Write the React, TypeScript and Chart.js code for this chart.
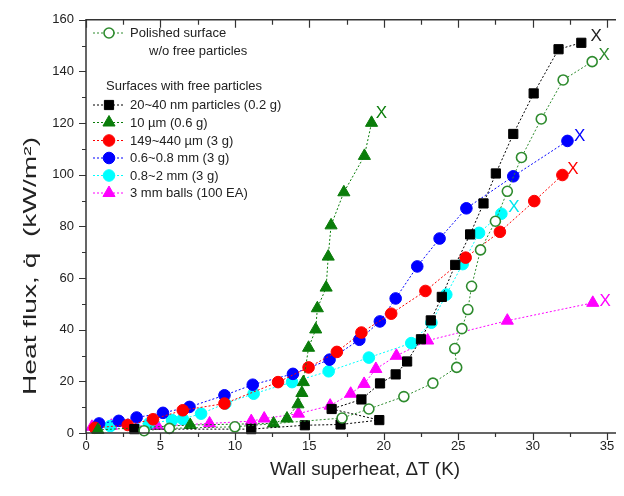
import React, { useEffect, useRef } from "react";
import { Chart, registerables } from "chart.js";

Chart.register(...registerables);

// ---- data (wall superheat K, heat flux kW/m2) ----
const polishedX = [3.9, 5.6, 10.0, 17.2, 19.0, 21.35, 23.3, 24.9, 24.77, 25.25, 25.65, 25.9, 26.5, 27.5, 28.3, 29.25, 30.58, 32.05, 34.0];
const polishedY = [0.9, 1.8, 2.4, 5.8, 9.3, 14.1, 19.3, 25.4, 32.7, 40.4, 47.8, 56.8, 70.9, 82.0, 93.6, 106.7, 121.6, 136.7, 143.8];

const nmX = [3.25, 11.1, 14.7, 17.1, 19.7, 16.5, 18.5, 19.75, 20.8, 21.57, 22.5, 23.16, 23.9, 24.8, 25.8, 26.7, 27.53, 28.7, 30.07, 31.74, 33.27];
const nmY = [1.5, 1.5, 3.0, 3.3, 5.0, 9.3, 13.0, 19.2, 22.7, 27.7, 36.3, 43.6, 52.7, 65.1, 76.9, 88.9, 100.5, 115.8, 131.5, 148.6, 151.1];

const umX = [0.8, 7.0, 12.6, 13.5, 14.24, 14.5, 14.6, 14.95, 15.43, 15.54, 16.13, 16.27, 16.46, 17.32, 18.7, 19.18];
const umY = [1.2, 3.1, 3.7, 5.6, 11.1, 15.5, 19.7, 33.0, 40.1, 48.3, 56.3, 68.3, 80.4, 93.2, 107.3, 120.1];

const redX = [0.6, 2.8, 4.5, 6.5, 9.3, 12.9, 14.95, 16.85, 18.5, 20.5, 22.8, 25.5, 27.8, 30.11, 32.0];
const redY = [2.0, 3.1, 5.3, 8.8, 11.4, 19.7, 25.4, 31.4, 38.9, 46.2, 55.0, 67.9, 77.9, 89.8, 99.9];

const blueX = [0.88, 2.2, 3.4, 5.17, 6.95, 9.3, 11.2, 13.9, 16.36, 18.36, 19.74, 20.8, 22.25, 23.75, 25.55, 28.7, 32.34];
const blueY = [3.7, 4.7, 6.0, 7.8, 10.1, 14.6, 18.7, 22.9, 28.4, 36.1, 43.2, 52.1, 64.5, 75.3, 87.0, 99.4, 113.1];

const cyanX = [1.63, 4.24, 5.78, 6.5, 7.73, 9.36, 11.26, 13.84, 16.3, 19.0, 21.85, 23.2, 24.2, 25.3, 26.4, 27.9];
const cyanY = [2.7, 3.7, 5.0, 5.4, 7.5, 11.4, 15.2, 19.7, 23.9, 29.2, 34.8, 42.7, 53.6, 65.4, 77.5, 84.9];

const ballX = [0.4, 1.7, 4.8, 8.3, 11.1, 11.97, 14.27, 16.4, 17.78, 18.68, 19.47, 20.85, 22.95, 28.3, 34.04];
const ballY = [2.4, 2.8, 2.7, 3.7, 4.6, 5.6, 7.5, 10.6, 15.2, 19.0, 24.8, 29.9, 35.8, 43.5, 50.4];

// burnout "X" marks
const endX = [34.26, 34.8, 19.85, 32.7, 33.16, 28.74, 34.88];
const endY = [153.6, 146.3, 123.6, 102.2, 115.0, 87.5, 51.0];
const endColors = ["#222222", "#2e8b2e", "#0a7d0a", "#ff0000", "#0000ff", "#00e5ee", "#ff00ff"];

const seriesLabels = [
  "Polished surface",
  "20~40 nm particles (0.2 g)",
  "10 \u00b5m (0.6 g)",
  "149~440 \u00b5m (3 g)",
  "0.6~0.8 mm (3 g)",
  "0.8~2 mm (3 g)",
  "3 mm balls (100 EA)",
];
const polishedSubLabel = "w/o free particles";
const groupHeader = "Surfaces with free particles";

const xTitle = "Wall superheat, \u0394T (K)";
const yTitle = "Heat flux, q\u0307  (kW/m\u00b2)";

const xTickLabels = ["0", "5", "10", "15", "20", "25", "30", "35"];
const yTickLabels = ["0", "20", "40", "60", "80", "100", "120", "140", "160"];

const FONT = "'Liberation Sans', Arial, Helvetica, sans-serif";
const TEXT = "#222222";

const pts = (xs: number[], ys: number[]) => xs.map((x, i) => ({ x, y: ys[i] }));

type Sty = { color: string; style: string; r: number; fill: string; bw: number };
const styles: Sty[] = [
  { color: "#2e8b2e", style: "circle", r: 5, fill: "#ffffff", bw: 1.6 },
  { color: "#000000", style: "rect", r: 6.5, fill: "#000000", bw: 1 },
  { color: "#0a7d0a", style: "triangle", r: 7, fill: "#0a7d0a", bw: 1 },
  { color: "#ff0000", style: "circle", r: 5.8, fill: "#ff0000", bw: 1 },
  { color: "#0000ff", style: "circle", r: 5.8, fill: "#0000ff", bw: 1 },
  { color: "#00ffff", style: "circle", r: 5.8, fill: "#00ffff", bw: 1 },
  { color: "#ff00ff", style: "triangle", r: 7, fill: "#ff00ff", bw: 1 },
];

function drawMarker(ctx: CanvasRenderingContext2D, s: Sty, x: number, y: number) {
  ctx.save();
  ctx.fillStyle = s.fill;
  ctx.strokeStyle = s.color;
  ctx.lineWidth = s.bw;
  ctx.beginPath();
  if (s.style === "circle") {
    ctx.arc(x, y, s.r, 0, Math.PI * 2);
  } else if (s.style === "rect") {
    const h = s.r * Math.SQRT1_2;
    ctx.rect(x - h, y - h, 2 * h, 2 * h);
  } else {
    const r = s.r;
    ctx.moveTo(x, y - r);
    ctx.lineTo(x + r * 0.866, y + r * 0.5);
    ctx.lineTo(x - r * 0.866, y + r * 0.5);
    ctx.closePath();
  }
  ctx.fill();
  ctx.stroke();
  ctx.restore();
}

const framePlugin = {
  id: "frameTicks",
  afterDatasetsDraw(chart: any) {
    const { ctx, chartArea } = chart;
    const { left, right, top, bottom } = chartArea;
    const xs = chart.scales.x;
    const ys = chart.scales.y;
    ctx.save();
    ctx.strokeStyle = "#333333";
    ctx.lineWidth = 1.5;
    ctx.beginPath();
    ctx.moveTo(right, top);
    ctx.lineTo(left, top);
    ctx.lineTo(left, bottom);
    ctx.lineTo(right, bottom);
    ctx.stroke();
    ctx.lineWidth = 1.2;
    ctx.beginPath();
    for (let i = 0; i <= 14; i++) {
      const v = i * 2.5;
      const px = Math.round(xs.getPixelForValue(v)) + 0.5;
      const len = i % 2 === 0 ? 7 : 4;
      ctx.moveTo(px, bottom);
      ctx.lineTo(px, bottom + len);
      ctx.moveTo(px, top);
      ctx.lineTo(px, top + len + 1);
    }
    for (let i = 0; i <= 16; i++) {
      const v = i * 10;
      const py = Math.round(ys.getPixelForValue(v)) + 0.5;
      const len = i % 2 === 0 ? 7 : 4;
      ctx.moveTo(left, py);
      ctx.lineTo(left - len, py);
    }
    ctx.stroke();

    // axis titles
    ctx.fillStyle = TEXT;
    ctx.textAlign = "center";
    ctx.textBaseline = "middle";
    ctx.font = `18px ${FONT}`;
    ctx.save();
    ctx.translate(365, 470);
    const wx = ctx.measureText(xTitle).width;
    ctx.scale(190 / wx, 1);
    ctx.fillText(xTitle, 0, 0);
    ctx.restore();
    ctx.save();
    ctx.translate(31, 266);
    ctx.rotate(-Math.PI / 2);
    const wy = ctx.measureText(yTitle).width;
    ctx.scale(258 / wy, 1);
    ctx.fillText(yTitle, 0, 0);
    ctx.restore();

    // burnout marks
    ctx.font = `17px ${FONT}`;
    endX.forEach((v, i) => {
      ctx.fillStyle = endColors[i];
      ctx.fillText("X", xs.getPixelForValue(v), ys.getPixelForValue(endY[i]));
    });

    // legend
    ctx.font = `13px ${FONT}`;
    ctx.textAlign = "left";
    ctx.fillStyle = TEXT;
    const rows = [33, 105, 122.5, 140.5, 158, 175.5, 193];
    rows.forEach((ry, i) => {
      const s = styles[i];
      ctx.save();
      ctx.strokeStyle = s.color;
      ctx.lineWidth = 1;
      ctx.setLineDash([2, 2]);
      ctx.beginPath();
      ctx.moveTo(93, ry);
      ctx.lineTo(124, ry);
      ctx.stroke();
      ctx.restore();
      drawMarker(ctx, s, 109, ry);
      ctx.fillStyle = TEXT;
      ctx.fillText(seriesLabels[i], 130, ry + 0.5);
    });
    ctx.fillText(polishedSubLabel, 149, 51);
    ctx.fillText(groupHeader, 106, 86.5);
    ctx.restore();
  },
};

export default function App() {
  const ref = useRef<HTMLCanvasElement>(null);
  useEffect(() => {
    document.body.style.margin = "0";
    const canvas = ref.current;
    if (!canvas) return;
    const series = [
      pts(polishedX, polishedY),
      pts(nmX, nmY),
      pts(umX, umY),
      pts(redX, redY),
      pts(blueX, blueY),
      pts(cyanX, cyanY),
      pts(ballX, ballY),
    ];
    const datasets = series.map((data, i) => {
      const s = styles[i];
      return {
        label: seriesLabels[i],
        data,
        showLine: true,
        borderColor: s.color,
        borderWidth: 1,
        borderDash: [2, 2],
        pointStyle: s.style,
        pointRadius: s.r,
        pointBackgroundColor: s.fill,
        pointBorderColor: s.color,
        pointBorderWidth: s.bw,
        fill: false,
        tension: 0,
        clip: false as any,
      };
    });
    const chart = new Chart(canvas, {
      type: "line",
      data: { datasets: datasets as any },
      plugins: [framePlugin as any],
      options: {
        animation: false,
        responsive: false,
        layout: { padding: { left: 0, right: 0, top: 16, bottom: 0 } },
        plugins: { legend: { display: false }, tooltip: { enabled: false } },
        scales: {
          x: {
            type: "linear",
            min: 0,
            max: 35.6,
            grid: { display: false, drawTicks: false },
            border: { display: false },
            ticks: {
              stepSize: 5,
              includeBounds: false,
              padding: 6,
              color: TEXT,
              font: { family: FONT, size: 13 },
              maxRotation: 0,
              callback: (v: any) => {
                const idx = Math.round(Number(v) / 5);
                return Math.abs(Number(v) - idx * 5) < 1e-6 ? xTickLabels[idx] : "";
              },
            },
            title: { display: false },
            afterFit: (s: any) => {
              s.height = 63;
            },
          },
          y: {
            type: "linear",
            min: 0,
            max: 160,
            grid: { display: false, drawTicks: false },
            border: { display: false },
            ticks: {
              stepSize: 20,
              padding: 12,
              color: TEXT,
              font: { family: FONT, size: 13 },
              callback: (v: any) => yTickLabels[Math.round(Number(v) / 20)],
            },
            title: { display: false },
            afterFit: (s: any) => {
              s.width = 86;
            },
          },
        },
      },
    });
    return () => chart.destroy();
  }, []);
  return (
    <div style={{ width: 624, height: 496 }}>
      <canvas ref={ref} width={624} height={496} />
    </div>
  );
}
